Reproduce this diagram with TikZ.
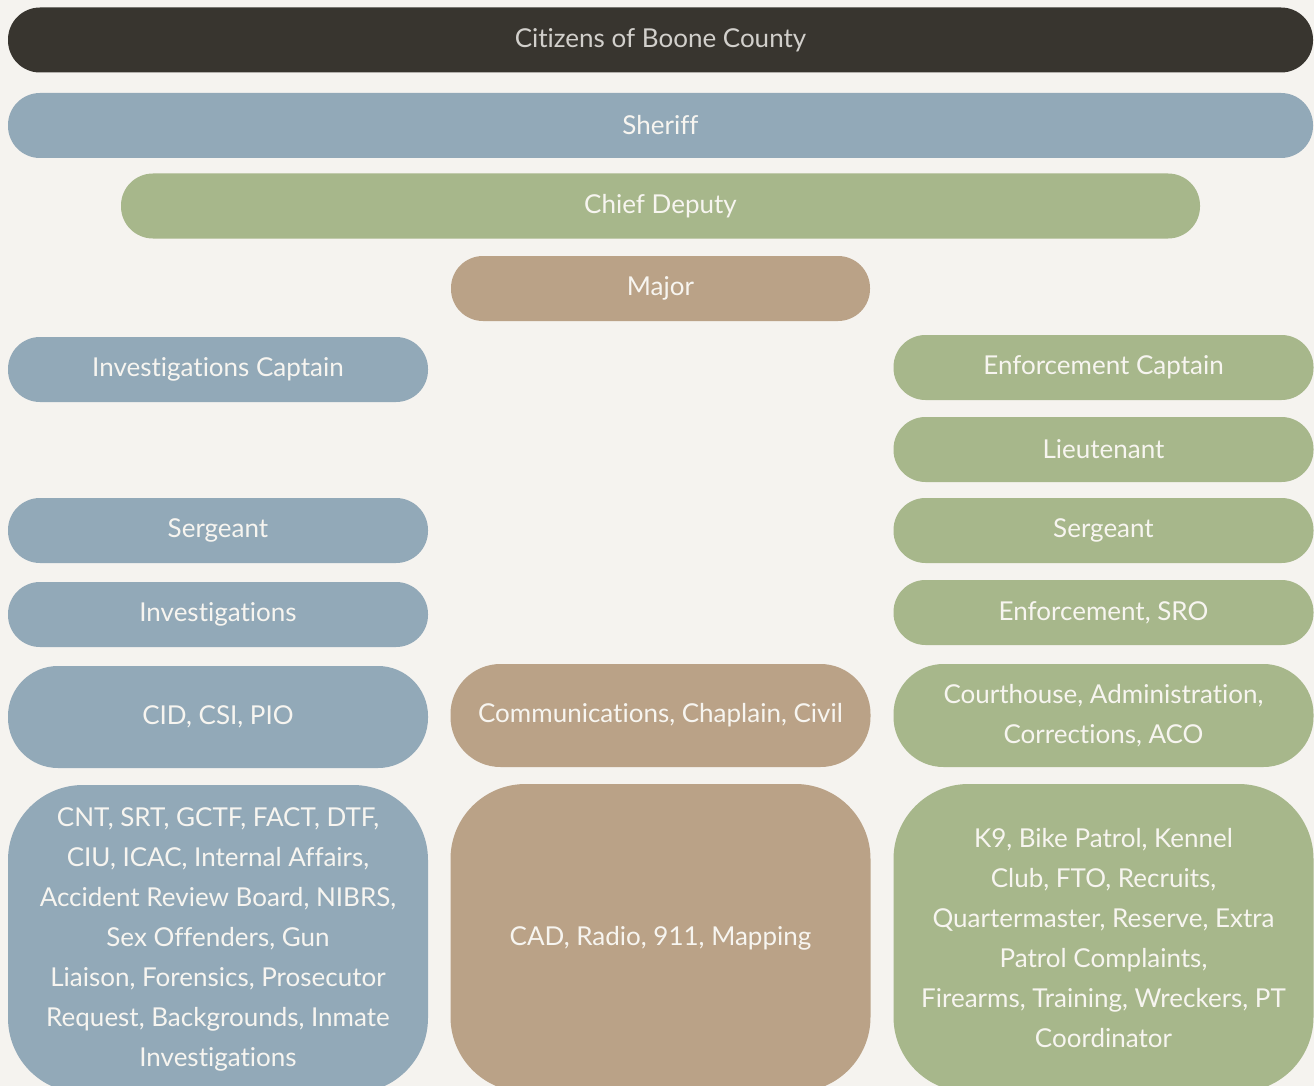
\documentclass[tikz,border=0pt]{standalone}
\usepackage{fontspec}
\setmainfont{Lato}[RawFeature=-liga]
\definecolor{pagebg}{HTML}{F5F3EF}
\definecolor{citizensdark}{HTML}{38352F}
\definecolor{slateblue}{HTML}{92A9B8}
\definecolor{sagegreen}{HTML}{A7B78B}
\definecolor{khakitan}{HTML}{BAA287}
\definecolor{boxtext}{HTML}{F7F5F0}

\begin{document}
\begin{tikzpicture}[x=1pt, y=-1pt,
  pill/.style={rounded corners=32pt, minimum height=65pt, inner sep=0pt,
    text=boxtext, font=\fontsize{26}{40}\selectfont, align=center},
  blue/.style={pill, fill=slateblue},
  green/.style={pill, fill=sagegreen},
  tan/.style={pill, fill=khakitan},
  col/.style={minimum width=420pt}]
\useasboundingbox (0,0) rectangle (1314,1086);
\clip (0,0) rectangle (1314,1086);
\fill[pagebg] (0,0) rectangle (1314,1086);

% top of the chart
\node[pill, fill=citizensdark, text=boxtext!85!black, minimum width=1305pt] (citizens) at (660.5,40) {Citizens of Boone County};
\node[blue, minimum width=1305pt] (sheriff) at (660.5,125.5) {Sheriff};
\node[green, minimum width=1079pt] (chief) at (660.5,206) {Chief Deputy};
\node[tan, minimum width=419pt] (major) at (660.5,288.5) {Major};

% investigations side
\node[blue, col] (invcapt) at (218,369.5) {Investigations Captain};
\node[blue, col] (invsgt) at (218,530.5) {Sergeant};
\node[blue, col] (invest) at (218,614.5) {Investigations};
\node[blue, col, minimum height=102pt, rounded corners=50pt] (cid) at (218,717) {CID, CSI, PIO};
\node[blue, col, minimum height=308pt, rounded corners=75pt] (invunits) at (218,939)
  {CNT, SRT, GCTF, FACT, DTF,\\ CIU, ICAC, Internal Affairs,\\ Accident Review Board, NIBRS,\\ Sex Offenders, Gun\\ Liaison, Forensics, Prosecutor\\ Request, Backgrounds, Inmate\\ Investigations};

% middle column
\node[tan, col, minimum height=103pt, rounded corners=50pt] (comms) at (660.5,715.5) {Communications, Chaplain, Civil};
\node[tan, col, minimum height=308pt, rounded corners=75pt] (dispatch) at (660.5,938) {CAD, Radio, 911, Mapping};

% enforcement side
\node[green, col] (enfcapt) at (1103.5,367.5) {Enforcement Captain};
\node[green, col] (lt) at (1103.5,449.5) {Lieutenant};
\node[green, col] (enfsgt) at (1103.5,530.5) {Sergeant};
\node[green, col] (enforce) at (1103.5,612.5) {Enforcement, SRO};
\node[green, col, minimum height=103pt, rounded corners=50pt] (court) at (1103.5,715.5) {Courthouse, Administration,\\ Corrections, ACO};
\node[green, col, minimum height=308pt, rounded corners=75pt] (patrol) at (1103.5,938)
  {K9, Bike Patrol, Kennel\\ Club, FTO, Recruits,\\ Quartermaster, Reserve, Extra\\ Patrol Complaints,\\ Firearms, Training, Wreckers, PT\\ Coordinator};
\end{tikzpicture}
\end{document}
